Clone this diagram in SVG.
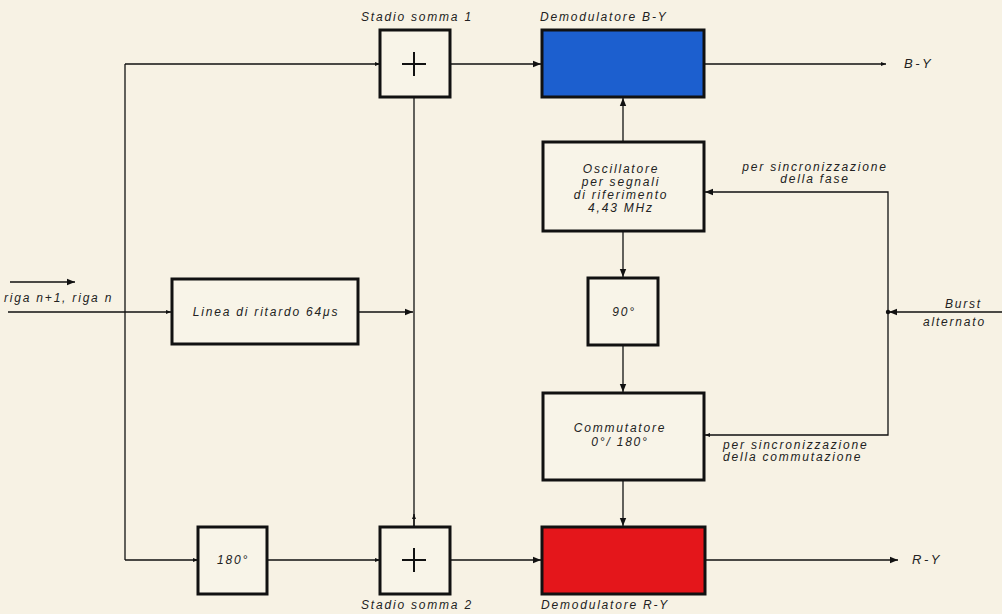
<svg xmlns="http://www.w3.org/2000/svg" width="1002" height="614" viewBox="0 0 1002 614">
<defs>
<marker id="ah" viewBox="0 0 10 10" refX="10" refY="5" markerWidth="11" markerHeight="8" markerUnits="userSpaceOnUse" orient="auto"><path d="M0,1 L10,5 L0,9 Z" fill="#111"/></marker>
<marker id="ahs" viewBox="0 0 10 10" refX="10" refY="5" markerWidth="6" markerHeight="5" markerUnits="userSpaceOnUse" orient="auto"><path d="M0,1 L10,5 L0,9 Z" fill="#111"/></marker>
</defs>
<style>
.bx{fill:#f8f4e8;stroke:#111;stroke-width:3}
.ln{fill:none;stroke:#111;stroke-width:1.3}
.t{font-family:"Liberation Sans",Arial,sans-serif;font-style:italic;font-size:12px;fill:#222;letter-spacing:1.8px}
.c{text-anchor:middle}
.o{font-size:13px;letter-spacing:2.5px}
.plus{stroke:#111;stroke-width:2;fill:none}
</style>
<rect width="1002" height="614" fill="#f7f2e4"/>
<g id="connectors">
<path class="ln" d="M125,64 V560"/>
<path class="ln" d="M125,64 H380" marker-end="url(#ahs)"/>
<path class="ln" d="M450,64 H541" marker-end="url(#ah)"/>
<path class="ln" d="M704,64 H886" marker-end="url(#ahs)"/>
<path class="ln" d="M623,142 V98" marker-end="url(#ah)"/>
<path class="ln" d="M623,231 V277" marker-end="url(#ah)"/>
<path class="ln" d="M623,346 V392" marker-end="url(#ah)"/>
<path class="ln" d="M623,481 V526" marker-end="url(#ah)"/>
<path class="ln" d="M888,312 V192 H705" marker-end="url(#ah)"/>
<path class="ln" d="M888,312 V435 H705" marker-end="url(#ahs)"/>
<path class="ln" d="M1002,312 H889" marker-end="url(#ah)"/>
<circle cx="888" cy="312" r="2.2" fill="#111"/>
<path class="ln" d="M10,282 H75" marker-end="url(#ah)"/>
<path class="ln" d="M8,312 H125"/>
<path class="ln" d="M125,312 H171" marker-end="url(#ahs)"/>
<path class="ln" d="M358,312 H413" marker-end="url(#ah)"/>
<path class="ln" d="M414,97 V527"/>
<path class="ln" d="M414,527 V514" marker-end="url(#ahs)"/>
<path class="ln" d="M125,560 H198" marker-end="url(#ahs)"/>
<path class="ln" d="M267,560 H380" marker-end="url(#ahs)"/>
<path class="ln" d="M450,560 H541" marker-end="url(#ah)"/>
<path class="ln" d="M705,560 H898" marker-end="url(#ah)"/>
</g>
<g id="sum1">
<rect class="bx" x="380" y="30" width="70" height="67"/>
<path class="plus" d="M414,52 V76 M402,64 H426"/>
<text class="t c" x="417" y="21">Stadio somma 1</text>
</g>
<g id="demod-by">
<rect x="542" y="30" width="162" height="67" fill="#1c5fcf" stroke="#111" stroke-width="3"/>
<text class="t" x="540" y="21">Demodulatore B-Y</text>
</g>
<g id="out-by"><text class="t o" x="904" y="68">B-Y</text></g>
<g id="oscillatore">
<rect class="bx" x="543" y="142" width="161" height="89"/>
<text class="t c" x="621" y="173">Oscillatore</text>
<text class="t c" x="621" y="186">per segnali</text>
<text class="t c" x="621" y="199">di riferimento</text>
<text class="t c" x="621" y="212">4,43 MHz</text>
</g>
<g id="lbl-fase">
<text class="t c" x="815" y="171">per sincronizzazione</text>
<text class="t c" x="815" y="183">della fase</text>
</g>
<g id="sfas90">
<rect class="bx" x="588" y="278" width="70" height="67"/>
<text class="t c" x="624" y="316">90°</text>
</g>
<g id="commutatore">
<rect class="bx" x="543" y="393" width="161" height="87"/>
<text class="t c" x="620" y="432">Commutatore</text>
<text class="t c" x="620" y="446">0°/ 180°</text>
</g>
<g id="lbl-comm">
<text class="t" x="723" y="449">per sincronizzazione</text>
<text class="t" x="723" y="461">della commutazione</text>
</g>
<g id="burst">
<text class="t" x="945" y="308">Burst</text>
<text class="t" x="923" y="326">alternato</text>
</g>
<g id="input">
<text class="t" x="4" y="302">riga n+1, riga n</text>
</g>
<g id="linea-ritardo">
<rect class="bx" x="172" y="279" width="186" height="65"/>
<text class="t c" x="266" y="316">Linea di ritardo 64μs</text>
</g>
<g id="sfas180">
<rect class="bx" x="198" y="527" width="69" height="67"/>
<text class="t c" x="233" y="564">180°</text>
</g>
<g id="sum2">
<rect class="bx" x="380" y="527" width="70" height="67"/>
<path class="plus" d="M414,548 V572 M402,560 H426"/>
<text class="t c" x="417" y="609">Stadio somma 2</text>
</g>
<g id="demod-ry">
<rect x="542" y="527" width="163" height="67" fill="#e4161b" stroke="#111" stroke-width="3"/>
<text class="t" x="541" y="609">Demodulatore R-Y</text>
</g>
<g id="out-ry"><text class="t o" x="912" y="564">R-Y</text></g>
</svg>
